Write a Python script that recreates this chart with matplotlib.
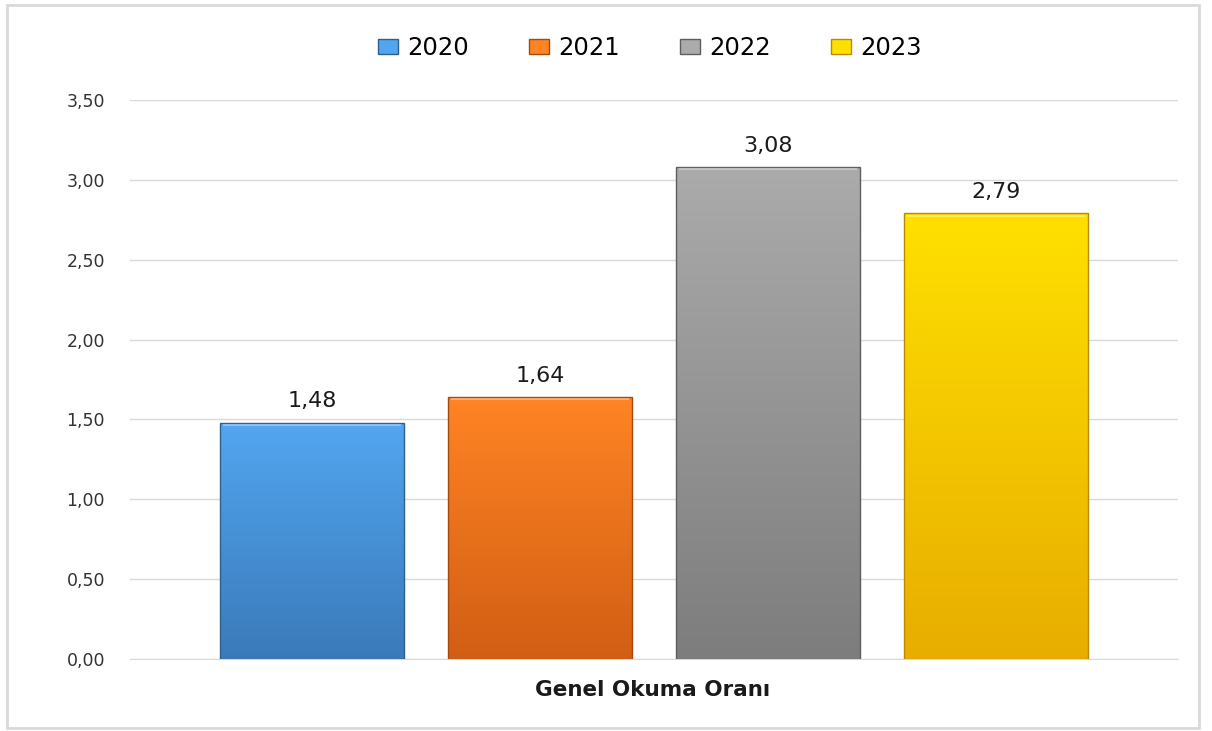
import matplotlib.pyplot as plt
import matplotlib.colors as mcolors
import matplotlib.patches as mpatches
import numpy as np

years = ['2020', '2021', '2022', '2023']
values = [1.48, 1.64, 3.08, 2.79]
category = 'Genel Okuma Oranı'

top_colors = ['#52a6f0', '#ff8424', '#ababab', '#ffe000']
bottom_colors = ['#3a7ab9', '#d25e14', '#7d7d7d', '#e8ad00']
edge_colors = ['#2d5f8f', '#a4480e', '#5e5e5e', '#b88a00']

fig = plt.figure(figsize=(12.12, 7.31), dpi=100)
ax = fig.add_axes([130 / 1212, 1 - 659 / 731, 1048 / 1212, 559 / 731])

width = 0.1756
step = 0.2176
offsets = (np.arange(len(years)) - 1.5) * step

handles = []
for i, (yr, v) in enumerate(zip(years, values)):
    x0 = offsets[i] - width / 2
    bars = ax.bar(offsets[i], v, width, color='none', edgecolor=edge_colors[i],
                  linewidth=1.0, zorder=3)
    cmap = mcolors.LinearSegmentedColormap.from_list('g%d' % i, [bottom_colors[i], top_colors[i]])
    grad = np.linspace(0, 1, 256).reshape(-1, 1)
    im = ax.imshow(grad, cmap=cmap, origin='lower', aspect='auto',
                   extent=[x0, x0 + width, 0, v], zorder=2)
    im.set_clip_path(bars[0])
    # light bevel at top
    ax.plot([x0 + 0.004, x0 + width - 0.004], [v - 0.015, v - 0.015],
            color='white', alpha=0.35, lw=1.5, zorder=4)
    ax.text(offsets[i], v + 0.07, f'{v:.2f}'.replace('.', ','), ha='center', va='bottom',
            fontsize=16, color='#1a1a1a')
    handles.append(mpatches.Patch(facecolor=top_colors[i], edgecolor=edge_colors[i], label=yr))

ax.set_xlim(-0.5, 0.5)
ax.set_ylim(0, 3.5)
ax.set_yticks(np.arange(0, 3.51, 0.5))
ax.set_yticklabels([f'{t:.2f}'.replace('.', ',') for t in np.arange(0, 3.51, 0.5)],
                   fontsize=12.5, color='#333333')
ax.tick_params(axis='y', length=0, pad=18)
ax.set_xticks([])
ax.grid(axis='y', color='#d9d9d9', linewidth=1, zorder=0)
for s in ['top', 'right', 'left']:
    ax.spines[s].set_visible(False)
ax.spines['bottom'].set_color('#d9d9d9')
ax.set_axisbelow(True)

fig.text(653 / 1212, 1 - 690 / 731, category, ha='center', va='center',
         fontsize=15.5, fontweight='bold', color='#1a1a1a')

fig.legend(handles=handles, loc='center', bbox_to_anchor=(650 / 1212, 1 - 48 / 731),
           ncol=4, frameon=False, fontsize=17.5, handlelength=0.82, handleheight=0.58,
           columnspacing=2.45, handletextpad=0.4)

border = mpatches.Rectangle((7 / 1212, 1 - 728 / 731), 1192 / 1212, 723 / 731,
                            transform=fig.transFigure, fill=False,
                            edgecolor='#d9d9d9', linewidth=2)
fig.patches.append(border)

plt.savefig('out.png', dpi=100)
